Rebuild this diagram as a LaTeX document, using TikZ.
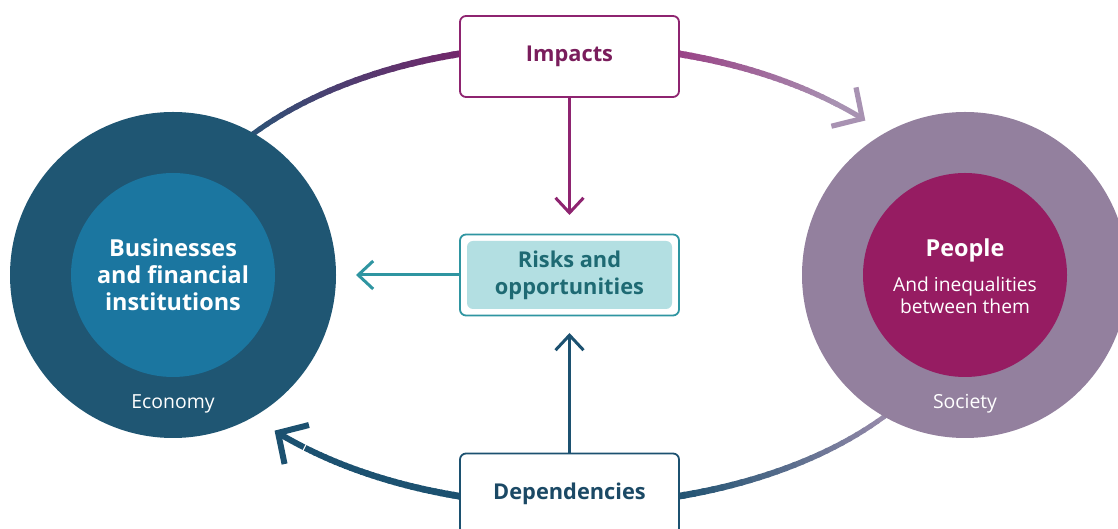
\documentclass[tikz,border=0pt]{standalone}
\usepackage{fontspec}
\setmainfont{Open Sans}
\usetikzlibrary{arrows.meta}

\definecolor{econdark}{HTML}{1F5673}
\definecolor{econmid}{HTML}{1B76A0}
\definecolor{socmauve}{HTML}{93809E}
\definecolor{socplum}{HTML}{961C62}
\definecolor{impline}{HTML}{8E2470}
\definecolor{imptext}{HTML}{7A1D5C}
\definecolor{riskline}{HTML}{2F95A1}
\definecolor{riskfill}{HTML}{B3DFE2}
\definecolor{risktext}{HTML}{1E6A73}
\definecolor{depline}{HTML}{1C5170}
\definecolor{deptext}{HTML}{1B4965}
\definecolor{arcblue}{HTML}{1F5A78}
\definecolor{arcpurple}{HTML}{74266A}
\definecolor{arcpink}{HTML}{983F84}
\definecolor{arclilac}{HTML}{A892B2}

\tikzstyle{outer} = [circle,inner sep=0,minimum size=163pt]
\tikzstyle{inner} = [circle,inner sep=0,minimum size=102pt,text=white,align=center]
\tikzstyle{box} = [draw,rounded corners=3pt,line width=0.9pt,fill=white,minimum width=109.5pt,minimum height=40.5pt,inner sep=0,align=center,font=\bfseries\fontsize{10.9}{13.5}\selectfont]
\tikzstyle{link} = [line width=1.5pt,-{Straight Barb[length=7.5pt,width=14pt]}]
\tikzstyle{bigtip} = [-{Straight Barb[length=11pt,width=23pt]}]

% piece of the big loop, shaded from #3 to #4 and thinning from #5 to #6 (pt)
\newcommand{\looppart}[6]{%
  \foreach \k in {0,...,29}{%
    \pgfmathsetmacro{\ta}{#1+(#2-#1)*\k/30}
    \pgfmathsetmacro{\tb}{#1+(#2-#1)*(\k+1.3)/30}
    \pgfmathtruncatemacro{\pc}{100*\k/29}
    \pgfmathsetmacro{\lw}{#5+(#6-#5)*\k/29}
    \draw[line width=\lw pt,color=#4!\pc!#3] (569,254) ++(\ta:400 and 230)
      arc[start angle=\ta,end angle=\tb,x radius=400,y radius=230];
  }}

\begin{document}
\begin{tikzpicture}[x=0.5pt,y=0.5pt]
  \useasboundingbox (0,0) rectangle (1118,529);
  \clip (0,0) rectangle (1118,529);

  % the loop round the two circles
  \looppart{150}{104}{arcblue}{arcpurple}{2.4}{3.4}
  \looppart{76}{48}{arcpink}{arclilac}{3.4}{2.6}
  \draw[bigtip,line width=2.6pt,arclilac] (569,254) ++(48.5:400 and 230)
    arc[start angle=48.5,end angle=42.2,x radius=400,y radius=230];
  \looppart{-32}{-76}{arclilac}{depline}{2.2}{3.4}
  \looppart{-104}{-131}{depline}{depline}{3.4}{3}
  \draw[bigtip,line width=3pt,depline] (569,254) ++(-131.5:400 and 230)
    arc[start angle=-131.5,end angle=-137.4,x radius=400,y radius=230];

  % economy
  \node[outer,fill=econdark] (economy) at (173,254) {};
  \node[inner,fill=econmid,font=\bfseries\fontsize{11.7}{13.5}\selectfont] (business) at (economy) {Businesses\\and financial\\institutions};
  \node[text=white,font=\fontsize{9.7}{11}\selectfont] (econlabel) at (173,125) {Economy};

  % society
  \node[outer,fill=socmauve] (society) at (965,254) {};
  \node[inner,fill=socplum] (people) at (society) {};
  \node[text=white,font=\bfseries\fontsize{11.7}{13.5}\selectfont] (peopletitle) at (965,279) {People};
  \node[text=white,align=center,font=\fontsize{9.6}{11}\selectfont] (peoplesub) at (965,234) {And inequalities\\between them};
  \node[text=white,font=\fontsize{9.7}{11}\selectfont] (soclabel) at (965,125) {Society};

  % the three boxes
  \node[box,draw=impline,text=imptext] (impacts) at (569.5,472.5) {Impacts};
  \node[box,draw=riskline] (risks) at (569.5,254) {};
  \node[fill=riskfill,rounded corners=3pt,inner sep=0,minimum width=102.5pt,minimum height=34pt,text=risktext,align=center,font=\bfseries\fontsize{10.9}{13.5}\selectfont] (risklabel) at (risks) {Risks and\\opportunities};
  \node[box,draw=depline,text=deptext] (dependencies) at (569.5,35) {Dependencies};

  % arrows between them
  \coordinate (imptip) at (569.5,314);
  \coordinate (risktip) at (356,254);
  \coordinate (deptip) at (569.5,196);
  \draw[link,impline] (impacts) -- (imptip);
  \draw[link,riskline] (risks) -- (risktip);
  \draw[link,depline] (dependencies) -- (deptip);
\end{tikzpicture}
\end{document}
